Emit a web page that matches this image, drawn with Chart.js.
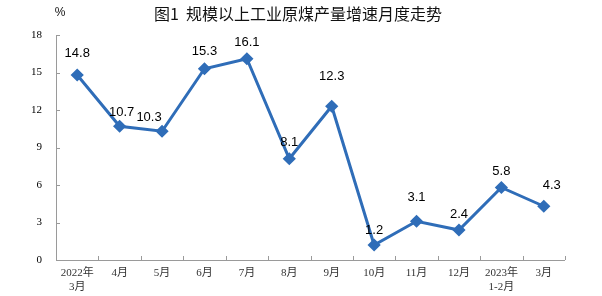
<!DOCTYPE html>
<html><head><meta charset="utf-8">
<script src="https://cdn.jsdelivr.net/npm/chart.js@4/dist/chart.umd.min.js"></script>
<style>html,body{margin:0;padding:0;background:#fff}#wrap{width:602px;height:296px;position:relative}</style>
</head><body><div id="wrap"><canvas id="c" width="602" height="296"></canvas></div>
<script>
const categories = [["2022年","3月"],"4月","5月","6月","7月","8月","9月","10月","11月","12月",["2023年","1-2月"],"3月"];
const growth = [14.8, 10.7, 10.3, 15.3, 16.1, 8.1, 12.3, 1.2, 3.1, 2.4, 5.8, 4.3];
const yTicks = [0, 3, 6, 9, 12, 15, 18];
const titleText = "图1  规模以上工业原煤产量增速月度走势";
const unitText = "%";
// label offsets [dx, dy] relative to point (style only)
const labelOffsets = [[0,-22],[2,-14],[-13,-14],[0,-17],[0,-16],[0,-16],[0,-30],[0,-15],[0,-24],[0,-16],[0,-16],[8,-21]];

const AXIS = '#9a9a9a';
const deco = {
  id:'deco',
  afterDraw(chart){
    const ctx = chart.ctx, x = chart.scales.x, y = chart.scales.y, a = chart.chartArea;
    ctx.save();
    ctx.strokeStyle = AXIS; ctx.lineWidth = 1;
    ctx.beginPath();
    ctx.moveTo(a.left+0.5, a.top); ctx.lineTo(a.left+0.5, a.bottom+0.5);
    ctx.lineTo(a.right, a.bottom+0.5);
    yTicks.forEach(v=>{ const py=Math.round(y.getPixelForValue(v))+0.5; ctx.moveTo(a.left, py); ctx.lineTo(a.left+4, py); });
    const n = categories.length, w = (a.right-a.left)/n;
    for(let i=1;i<=n;i++){ const px=Math.round(a.left+i*w)+0.5; ctx.moveTo(px,a.bottom); ctx.lineTo(px,a.bottom-4); }
    ctx.stroke();
    // data labels
    const meta = chart.getDatasetMeta(0);
    ctx.fillStyle = '#000';
    ctx.font = '13px "Liberation Sans", Arial, sans-serif';
    ctx.textAlign = 'center'; ctx.textBaseline = 'middle';
    meta.data.forEach((pt,i)=>{
      const o = labelOffsets[i];
      ctx.fillText(growth[i].toFixed(1), pt.x+o[0], pt.y+o[1]);
    });
    // title and unit
    ctx.fillStyle = '#111';
    ctx.font = '16px "Noto Sans CJK SC", sans-serif';
    ctx.fillText(titleText, 298, 14);
    ctx.font = '12px "Liberation Sans", "Noto Sans CJK SC", sans-serif';
    ctx.fillText(unitText, 60, 13);
    ctx.restore();
  }
};

new Chart(document.getElementById('c'), {
  type:'line',
  data:{ labels:categories, datasets:[{
    data:growth, borderColor:'#2F6DB8', backgroundColor:'#2F6DB8', borderWidth:3,
    pointStyle:'rectRot', pointRadius:4.5, pointHoverRadius:4.5, tension:0
  }]},
  options:{
    responsive:false, animation:false, devicePixelRatio:1,
    layout:{padding:{top:35,right:37,bottom:0,left:0}},
    plugins:{legend:{display:false}, tooltip:{enabled:false}, title:{display:false}},
    scales:{
      x:{ type:'category', offset:true,
        grid:{display:false, drawTicks:false}, border:{display:false},
        ticks:{color:'#333', font:{family:'"Liberation Serif", "Noto Sans CJK SC"', size:11}, padding:7, maxRotation:0, autoSkip:false},
        afterFit(s){ s.height = 36; } },
      y:{ min:0, max:18, afterBuildTicks(s){ s.ticks = yTicks.map(v=>({value:v})); },
        grid:{display:false, drawTicks:false}, border:{display:false},
        ticks:{color:'#000', font:{family:'"Liberation Serif", "Times New Roman", serif', size:11}, padding:14},
        afterFit(s){ s.width = 56; } }
    }
  },
  plugins:[deco]
});
</script></body></html>
